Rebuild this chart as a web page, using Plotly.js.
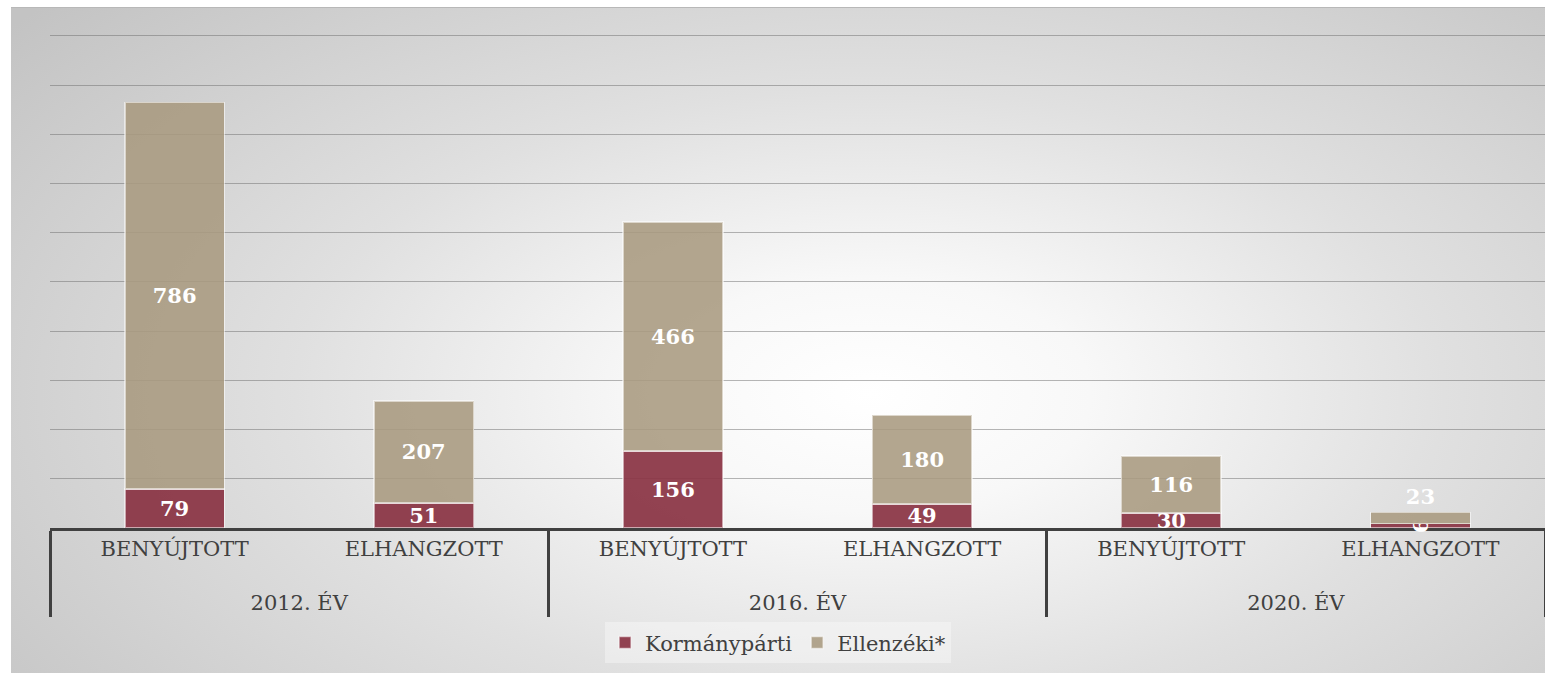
<!DOCTYPE html>
<html>
<head>
<meta charset="utf-8">
<script src="https://cdn.plot.ly/plotly-3.0.1.min.js"></script>
<style>
  html, body { margin: 0; padding: 0; background: #ffffff; }
  #bg {
    position: absolute; left: 11px; top: 7px; width: 1534px; height: 666px;
    border-top: 1px solid #b8b8b8;
    background: radial-gradient(ellipse 72% 88% at 56% 58%, #ffffff 0%, #f8f8f8 20%, #e0e0e0 52%, #c3c3c3 100%);
  }
  #chart { position: absolute; left: 0; top: 0; width: 1545px; height: 673px; }
</style>
</head>
<body>
<div id="bg"></div>
<div id="chart"></div>
<script>
const years = ["2012. ÉV", "2012. ÉV", "2016. ÉV", "2016. ÉV", "2020. ÉV", "2020. ÉV"];
const kinds = ["BENYÚJTOTT", "ELHANGZOTT", "BENYÚJTOTT", "ELHANGZOTT", "BENYÚJTOTT", "ELHANGZOTT"];
const kormanyparti = [79, 51, 156, 49, 30, 9];
const ellenzeki = [786, 207, 466, 180, 116, 23];
const seriesNames = ["Kormánypárti", "Ellenzéki*"];

// first-row labels get an empty second line to open up the gap before the group row
const kindLabels = kinds.map(k => k + "<br>\u00a0");

const serif = "'DejaVu Serif', 'Liberation Serif', serif";
const labelFont = { family: serif, size: 21, color: "#ffffff", weight: "bold" };

const traces = [
  {
    type: "bar", name: seriesNames[0], x: [years, kindLabels], y: kormanyparti,
    width: 0.4,
    marker: { color: "rgba(138,52,68,0.93)", line: { color: "rgba(255,255,255,0.55)", width: 1.5 } },
    text: kormanyparti.map(String), textposition: "inside", insidetextanchor: "middle",
    constraintext: "none", textfont: labelFont, insidetextfont: labelFont,
    hoverinfo: "skip", cliponaxis: false
  },
  {
    type: "bar", name: seriesNames[1], x: [years, kindLabels], y: ellenzeki,
    width: 0.4,
    marker: { color: "rgba(168,154,128,0.88)", line: { color: "rgba(255,255,255,0.55)", width: 1.5 } },
    text: ellenzeki.map(String),
    textposition: ellenzeki.map(v => v < 40 ? "outside" : "inside"),
    insidetextanchor: "middle",
    constraintext: "none", textfont: labelFont, insidetextfont: labelFont, outsidetextfont: labelFont,
    hoverinfo: "skip", cliponaxis: false
  }
];

const layout = {
  width: 1545, height: 673,
  margin: { l: 50, r: 0, t: 31, b: 145 },
  paper_bgcolor: "rgba(0,0,0,0)",
  plot_bgcolor: "rgba(0,0,0,0)",
  barmode: "stack",
  font: { family: serif, color: "#404040", size: 21 },
  xaxis: {
    type: "multicategory",
    showline: true, linecolor: "#404040", linewidth: 3,
    showdividers: true, dividercolor: "#404040", dividerwidth: 3,
    tickfont: { family: serif, size: 21, color: "#404040" },
    ticks: "outside", ticklen: 11, tickcolor: "rgba(0,0,0,0)",
    showgrid: false, zeroline: false,
    layer: "below traces"
  },
  yaxis: {
    range: [0, 1010], tick0: 0, dtick: 100, showticklabels: false,
    showgrid: true, gridcolor: "rgba(110,110,110,0.5)", gridwidth: 1,
    zeroline: false, showline: false, fixedrange: true
  },
  showlegend: true,
  legend: {
    orientation: "h", x: 0.487, xanchor: "center", y: -0.19, yanchor: "top",
    bgcolor: "rgba(255,255,255,0.35)", borderwidth: 0,
    font: { family: serif, size: 21, color: "#404040" },
    itemwidth: 30, traceorder: "normal"
  }
};

Plotly.newPlot("chart", traces, layout, { displayModeBar: false, staticPlot: true });
</script>
</body>
</html>
